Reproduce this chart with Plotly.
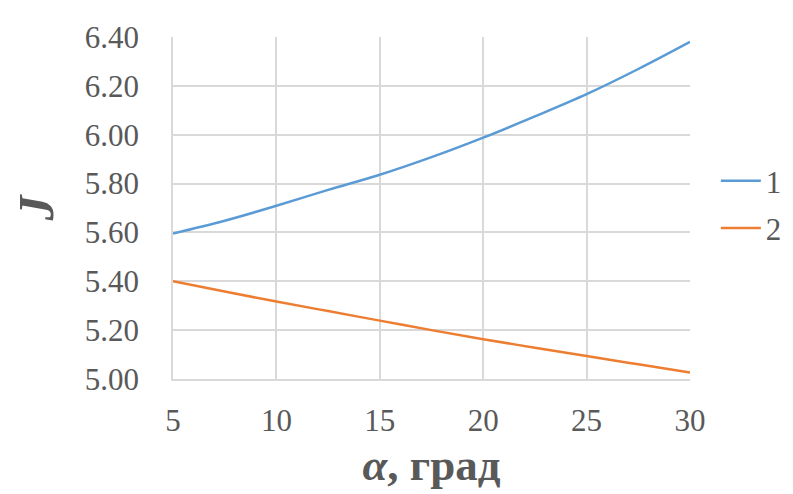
import plotly.graph_objects as go

alpha = [5, 7.5, 10, 12.5, 15, 17.5, 20, 22.5, 25, 27.5, 30]
J1 = [5.596, 5.648, 5.709, 5.774, 5.836, 5.908, 5.988, 6.075, 6.166, 6.269, 6.380]
J2 = [5.400, 5.358, 5.317, 5.278, 5.239, 5.200, 5.163, 5.128, 5.094, 5.060, 5.027]
series_names = ["1", "2"]
y_ticks = [5.0, 5.2, 5.4, 5.6, 5.8, 6.0, 6.2, 6.4]
x_ticks = [5, 10, 15, 20, 25, 30]

font = "Liberation Serif"
fig = go.Figure()
fig.add_trace(go.Scatter(x=alpha, y=J1, mode="lines", name=series_names[0], legendgroup="a",
                         line=dict(color="#5b9bd5", width=2.5, shape="spline")))
fig.add_trace(go.Scatter(x=alpha, y=J2, mode="lines", name=series_names[1], legendgroup="b",
                         line=dict(color="#ed7d31", width=2.5, shape="spline")))

fig.update_layout(
    width=793, height=494,
    margin=dict(l=165, r=111, t=24, b=123),
    paper_bgcolor="white", plot_bgcolor="white",
    font=dict(family=font, size=31, color="#595959"),
    legend=dict(x=1.05, y=0.51, xanchor="left", yanchor="middle",
                font=dict(size=31, color="#595959"), tracegroupgap=4,
                itemwidth=40),
    xaxis=dict(range=[5, 30], tickvals=x_ticks, showgrid=True,
               gridcolor="#d9d9d9", gridwidth=1.5, zeroline=False,
               showline=True, linecolor="#d9d9d9", linewidth=1.5,
               ticks="", ticklen=0, ticklabelstandoff=13,
               title=dict(text="<b><i>α</i>, град</b>", font=dict(size=45, color="#595959"),
                          standoff=12)),
    yaxis=dict(range=[5.0, 6.4], tickvals=y_ticks, tickformat=".2f", showgrid=True,
               gridcolor="#d9d9d9", gridwidth=1.5, zeroline=False,
               showline=True, linecolor="#d9d9d9", linewidth=1.5,
               ticks="", ticklen=0, ticklabelstandoff=26,
               title=dict(text="<b><i>J</i></b>", font=dict(size=50, color="#595959"),
                          standoff=22)),
)
fig.write_html("out.html")
